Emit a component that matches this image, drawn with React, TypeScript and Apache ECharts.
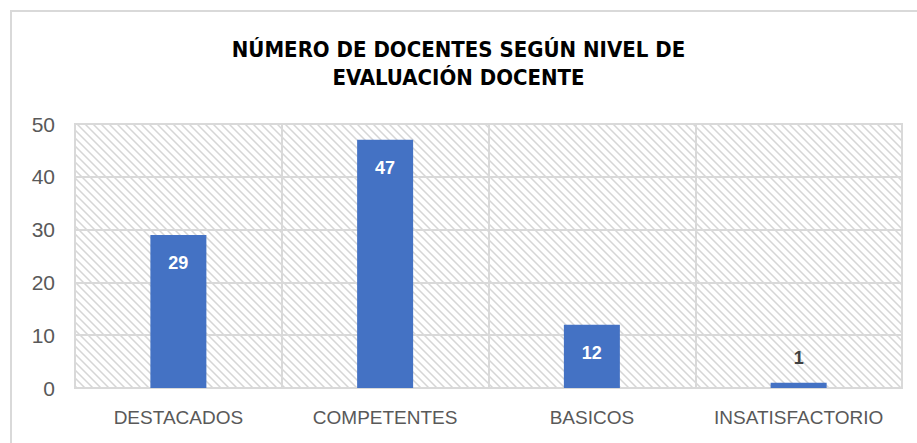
import React, { useEffect, useRef } from "react";
import * as echarts from "echarts";

const categories = ["DESTACADOS", "COMPETENTES", "BASICOS", "INSATISFACTORIO"];
const values = [29, 47, 12, 1];
const yTicks = [0, 10, 20, 30, 40, 50];
const titleLines = ["NÚMERO DE DOCENTES SEGÚN NIVEL DE", "EVALUACIÓN DOCENTE"];

function makeHatch(): HTMLCanvasElement {
  const c = document.createElement("canvas");
  c.width = 8;
  c.height = 8;
  const ctx = c.getContext("2d")!;
  ctx.fillStyle = "#ffffff";
  ctx.fillRect(0, 0, 8, 8);
  for (let y = 0; y < 8; y++) {
    for (let k = 0; k < 3; k++) {
      const x = (y + k) % 8;
      ctx.fillStyle = k === 1 ? "#d6d6d6" : "#e8e8e8";
      ctx.fillRect(x, y, 1, 1);
    }
  }
  return c;
}

export default function App() {
  const ref = useRef<HTMLDivElement>(null);
  useEffect(() => {
    if (!ref.current) return;
    const chart = echarts.init(ref.current, undefined, { renderer: "svg" });
    const hatch = makeHatch();
    chart.setOption({
      animation: false,
      backgroundColor: "#ffffff",
      title: {
        text: titleLines.join("\n"),
        left: "center",
        top: 30,
        textStyle: {
          fontFamily: "'Liberation Sans Narrow', 'DejaVu Sans Condensed', sans-serif",
          fontWeight: "bold",
          fontSize: 22,
          lineHeight: 28,
          color: "#000000",
        },
      },
      graphic: [
        {
          type: "rect",
          shape: { x: 11, y: 11, width: 940, height: 460 },
          style: { fill: "none", stroke: "#d9d9d9", lineWidth: 2 },
          silent: true,
          z: 0,
        },
      ],
      grid: {
        left: 75,
        right: 15,
        top: 124,
        bottom: 55,
        show: true,
        backgroundColor: { image: hatch, repeat: "repeat", imageWidth: 8, imageHeight: 8 },
        borderColor: "#d9d9d9",
        borderWidth: 2,
      },
      xAxis: {
        type: "category",
        data: categories,
        axisLine: { show: true, lineStyle: { color: "#d9d9d9", width: 2 } },
        axisTick: { show: false },
        splitLine: { show: true, interval: 0, lineStyle: { color: "#d9d9d9", width: 2 } },
        axisLabel: {
          color: "#595959",
          fontSize: 19,
          fontFamily: "'Liberation Sans', Arial, sans-serif",
          margin: 20,
          interval: 0,
        },
      },
      yAxis: {
        type: "value",
        min: yTicks[0],
        max: yTicks[yTicks.length - 1],
        interval: 10,
        axisLine: { show: false },
        axisTick: { show: false },
        splitLine: { show: true, lineStyle: { color: "#d9d9d9", width: 2 } },
        axisLabel: {
          color: "#595959",
          fontSize: 21,
          fontFamily: "'Liberation Sans', Arial, sans-serif",
          margin: 20,
        },
      },
      series: [
        {
          type: "bar",
          barWidth: 56,
          itemStyle: { color: "#4472C4" },
          data: values.map((v) =>
            v < 5
              ? {
                  value: v,
                  label: { position: "top", color: "#404040", distance: 16 },
                }
              : { value: v }
          ),
          label: {
            show: true,
            position: "insideTop",
            distance: 19,
            color: "#ffffff",
            fontWeight: "bold",
            fontSize: 18,
            fontFamily: "'Liberation Sans', Arial, sans-serif",
          },
        },
      ],
    });
    return () => chart.dispose();
  }, []);
  return (
    <div
      ref={ref}
      style={{ position: "absolute", left: 0, top: 0, width: 917, height: 443 }}
    />
  );
}
